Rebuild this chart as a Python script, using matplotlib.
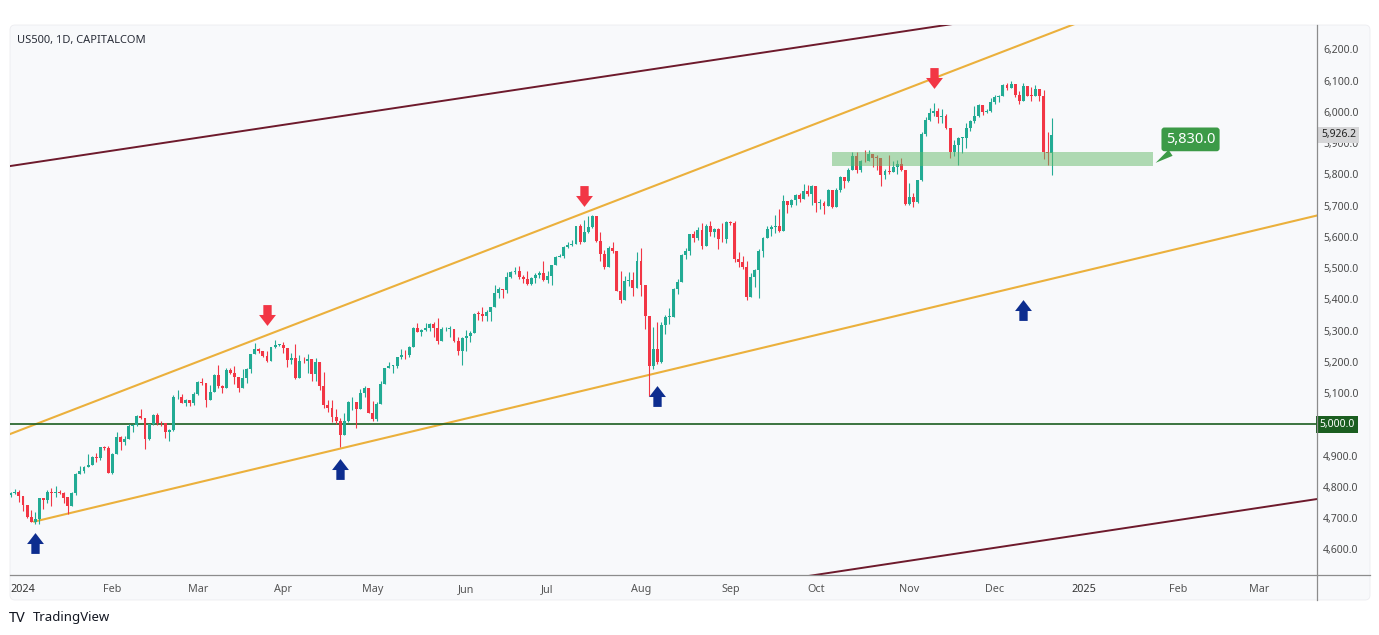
import numpy as np
import pandas as pd
import matplotlib
matplotlib.use("Agg")
import matplotlib.pyplot as plt
import matplotlib.transforms as mtransforms
from matplotlib.path import Path
from matplotlib.patches import FancyBboxPatch, Rectangle
from matplotlib.lines import Line2D

plt.rcParams["font.family"] = ["Noto Sans", "DejaVu Sans"]

# ---------------------------------------------------------------------------
# US500 daily bars (CAPITALCOM), 27 Dec 2023 -> 20 Dec 2024, weekdays (1 Jan closed)
# open of each bar = previous close (CFD trades continuously)
# ---------------------------------------------------------------------------
first_open = 4774.8

closes = [
    # Dec 2023
    4781.6, 4783.4, 4769.8,
    # Jan
    4742.8, 4704.8, 4688.7, 4697.2, 4763.5, 4756.5, 4783.5, 4780.2, 4783.8, 4781.0, 4766.0,
    4739.2, 4780.9, 4839.8, 4850.4, 4864.6, 4868.6, 4894.2, 4891.0, 4927.9, 4925.0, 4845.7,
    # Feb
    4906.2, 4958.6, 4942.8, 4954.2, 4995.1, 4997.9, 5026.6, 5021.8, 4953.2, 5000.6, 5029.7,
    5005.6, 5003.0, 4975.5, 4981.8, 5087.0, 5088.8, 5069.5, 5078.2, 5069.8, 5096.3,
    # Mar
    5137.1, 5131.0, 5078.7, 5104.8, 5157.4, 5123.7, 5117.9, 5175.3, 5165.3, 5150.5, 5117.1,
    5149.4, 5178.5, 5224.6, 5241.5, 5234.2, 5218.2, 5203.6, 5248.5, 5254.4, 5255.0,
    # Apr
    5243.8, 5205.8, 5211.5, 5147.2, 5204.3, 5202.4, 5209.9, 5160.6, 5199.1, 5123.4, 5061.8,
    5051.4, 5022.2, 5011.1, 4967.2, 5010.6, 5070.6, 5071.6, 5048.4, 5100.0, 5116.2, 5035.7,
    # May
    5018.4, 5064.2, 5127.8, 5180.7, 5187.7, 5187.7, 5214.1, 5222.7, 5221.4, 5246.7, 5308.2,
    5297.1, 5303.3, 5308.1, 5321.4, 5307.0, 5267.8, 5304.7, 5306.0, 5306.0, 5267.0, 5235.5, 5277.5,
    # Jun
    5283.4, 5291.3, 5354.0, 5353.0, 5347.0, 5360.8, 5375.3, 5421.0, 5433.7, 5431.6, 5473.2,
    5487.0, 5490.0, 5473.2, 5464.6, 5447.9, 5469.3, 5477.9, 5482.9, 5460.5,
    # Jul
    5475.1, 5509.0, 5537.0, 5540.0, 5567.2, 5572.9, 5577.0, 5633.9, 5584.5, 5615.4, 5631.2,
    5667.2, 5588.3, 5544.6, 5505.0, 5564.4, 5555.7, 5427.1, 5399.2, 5459.1, 5463.5, 5436.4, 5522.3,
    # Aug
    5446.7, 5346.6, 5186.3, 5240.0, 5199.5, 5319.3, 5344.2, 5344.4, 5434.4, 5455.2, 5543.2,
    5554.3, 5608.3, 5597.1, 5620.9, 5570.6, 5634.6, 5616.8, 5625.8, 5592.2, 5592.0, 5648.4,
    # Sep
    5645.0, 5528.9, 5520.1, 5503.4, 5408.4, 5471.1, 5495.5, 5554.1, 5595.8, 5626.0, 5633.1,
    5634.6, 5618.3, 5713.6, 5702.6, 5718.6, 5732.9, 5722.3, 5745.4, 5738.2, 5762.5,
    # Oct
    5708.8, 5709.5, 5699.9, 5751.1, 5695.9, 5751.1, 5792.0, 5780.1, 5815.0, 5859.9, 5815.3,
    5842.5, 5841.5, 5864.7, 5854.0, 5851.2, 5797.4, 5809.9, 5808.1, 5823.5, 5832.9, 5813.7, 5705.5,
    # Nov
    5728.8, 5712.7, 5782.8, 5929.0, 5973.1, 5995.5, 6001.4, 5984.0, 5985.4, 5949.2, 5870.6,
    5893.6, 5917.0, 5917.1, 5948.7, 5969.3, 5987.4, 6021.6, 5998.7, 6003.0, 6032.4,
    # Dec
    6047.2, 6049.9, 6086.5, 6075.1, 6090.3, 6052.9, 6034.9, 6084.2, 6051.3, 6051.1, 6074.1,
    6050.6, 5872.2, 5867.1, 5926.2,
]

highs = [
    4785, 4793, 4789,
    4754, 4729, 4726, 4721, 4764, 4765, 4790, 4798, 4802, 4790, 4783,
    4745, 4785, 4843, 4868, 4866, 4904, 4899, 4907, 4929, 4932, 4932,
    4907, 4975, 4963, 4963, 5000, 5001, 5030, 5048, 5000, 5002, 5033,
    5038, 5010, 4993, 4984, 5094, 5111, 5097, 5080, 5077, 5104,
    5140, 5149, 5127, 5127, 5160, 5190, 5125, 5180, 5180, 5187, 5136,
    5176, 5180, 5226, 5262, 5246, 5229, 5235, 5249, 5270, 5258,
    5264, 5208, 5228, 5256, 5222, 5216, 5225, 5178, 5211, 5193, 5168,
    5077, 5077, 5050, 5019, 5038, 5076, 5089, 5057, 5114, 5123, 5110,
    5074, 5073, 5139, 5181, 5200, 5191, 5215, 5240, 5238, 5250, 5311,
    5325, 5305, 5325, 5324, 5329, 5342, 5311, 5312, 5315, 5282, 5279, 5280,
    5302, 5299, 5355, 5362, 5376, 5366, 5376, 5447, 5441, 5432, 5488,
    5490, 5505, 5506, 5478, 5490, 5473, 5483, 5490, 5524,
    5490, 5510, 5540, 5545, 5570, 5583, 5591, 5635, 5642, 5655, 5666,
    5670, 5622, 5615, 5557, 5570, 5585, 5523, 5491, 5474, 5487, 5489, 5551,
    5566, 5440, 5325, 5312, 5329, 5328, 5350, 5372, 5436, 5464, 5546,
    5563, 5610, 5620, 5633, 5644, 5642, 5651, 5628, 5628, 5646, 5651,
    5652, 5651, 5551, 5540, 5522, 5485, 5497, 5560, 5600, 5636, 5637,
    5670, 5690, 5734, 5715, 5722, 5736, 5741, 5768, 5765, 5765,
    5757, 5720, 5714, 5753, 5748, 5758, 5796, 5790, 5822, 5871, 5871,
    5846, 5878, 5879, 5866, 5863, 5834, 5817, 5862, 5843, 5847, 5851, 5780,
    5772, 5741, 5783, 5936, 5983, 6012, 6028, 6012, 6008, 5993, 5930,
    5909, 5921, 5920, 5963, 5973, 6020, 6026, 6021, 6010, 6045,
    6053, 6053, 6089, 6093, 6099, 6089, 6066, 6092, 6079, 6079, 6085,
    6057, 6070, 5935, 5980,
]

lows = [
    4768, 4776, 4751,
    4722, 4699, 4687, 4682, 4682, 4730, 4749, 4739, 4769, 4776, 4748,
    4714, 4740, 4775, 4842, 4844, 4866, 4869, 4881, 4887, 4917, 4845,
    4842, 4906, 4919, 4935, 4955, 4977, 4995, 5016, 4920, 4951, 4999,
    4999, 4995, 4955, 4946, 4980, 5081, 5068, 5058, 5058, 5061,
    5094, 5127, 5057, 5091, 5121, 5117, 5101, 5115, 5160, 5130, 5104,
    5146, 5132, 5163, 5229, 5230, 5216, 5200, 5215, 5245, 5250,
    5229, 5184, 5194, 5146, 5149, 5198, 5165, 5138, 5138, 5109, 5052,
    5039, 5007, 5000, 4927, 4969, 5007, 5047, 4990, 5054, 5089, 5035,
    5011, 5011, 5090, 5129, 5179, 5166, 5180, 5208, 5209, 5217, 5263,
    5296, 5284, 5299, 5298, 5280, 5256, 5278, 5300, 5280, 5263, 5222, 5191,
    5234, 5265, 5297, 5335, 5331, 5331, 5331, 5395, 5403, 5403, 5420,
    5468, 5482, 5465, 5452, 5447, 5446, 5452, 5470, 5458,
    5452, 5446, 5509, 5535, 5534, 5565, 5570, 5587, 5576, 5583, 5614,
    5629, 5584, 5522, 5497, 5526, 5550, 5427, 5390, 5399, 5444, 5410, 5500,
    5410, 5306, 5090, 5178, 5192, 5196, 5290, 5321, 5353, 5418, 5460,
    5530, 5542, 5585, 5591, 5560, 5570, 5603, 5600, 5561, 5584, 5581,
    5638, 5520, 5504, 5497, 5397, 5410, 5441, 5406, 5535, 5595, 5604,
    5614, 5615, 5625, 5675, 5695, 5702, 5712, 5725, 5730, 5703,
    5681, 5690, 5674, 5703, 5691, 5704, 5745, 5756, 5775, 5820, 5804,
    5808, 5840, 5846, 5824, 5813, 5763, 5785, 5800, 5817, 5800, 5811, 5703,
    5703, 5696, 5710, 5780, 5924, 5970, 5986, 5965, 5966, 5944, 5853,
    5859, 5830, 5870, 5885, 5940, 5963, 5985, 5990, 5995, 5999,
    6024, 6033, 6050, 6071, 6075, 6048, 6024, 6038, 6050, 6036, 6050,
    6035, 5850, 5830, 5798,
]

# drawings (bar position along the weekday axis, price)
upper_red_line = [(0.0, 5827), (230.0, 6278)]
lower_red_line = [(197.8, 4518), (321.2, 4761)]
upper_channel = [(-0.2, 4969), (261.0, 6278)]
lower_channel = [(5.5, 4688), (320.8, 5667)]
round_level = 5000
zone_dates = ["2024-10-07", "2025-01-24"]
zone_prices = [5827, 5871]
zone_label = "5,830.0"
red_arrow_dates = ["2024-03-26", "2024-07-12", "2024-11-11"]
red_arrow_prices = [5350, 5732, 6107]
blue_arrow_dates = ["2024-01-05", "2024-04-19", "2024-08-07", "2024-12-11"]
blue_arrow_prices = [4620, 4857, 5092, 5366]
price_ticks = list(range(4600, 6201, 100))

# ---------------------------------------------------------------------------
bars = pd.bdate_range("2023-12-27", "2024-12-20")
bars = bars[bars != pd.Timestamp("2024-01-01")]
calendar = pd.bdate_range("2023-12-27", "2025-03-31")
calendar = calendar[calendar != pd.Timestamp("2024-01-01")]
pos = {d: i for i, d in enumerate(calendar)}

c = np.array(closes, dtype=float)
o = np.r_[first_open, c[:-1]]
h = np.maximum(np.array(highs, dtype=float), np.maximum(o, c))
l = np.minimum(np.array(lows, dtype=float), np.minimum(o, c))
x = np.array([pos[d] for d in bars])
assert len(x) == len(c) == len(h) == len(l)

GREEN = "#22ab94"
RED = "#f23645"
BG = "#f8f9fb"
AXIS_GREY = "#8c8c8c"

W, H = 1379, 635
fig = plt.figure(figsize=(W / 100, H / 100), dpi=100)
fig.patch.set_facecolor("white")

# chart panel
panel = FancyBboxPatch((10, H - 600), 1360, 575, boxstyle="round,pad=0,rounding_size=5",
                       transform=mtransforms.IdentityTransform(), fc=BG, ec="#ececf0",
                       lw=0.6, zorder=-5)
fig.add_artist(panel)

left, right, top, bottom = 10, 1317, 25, 575
ax = fig.add_axes([left / W, (H - bottom) / H, (right - left) / W, (bottom - top) / H])
ax.set_facecolor("none")
ax.set_xlim(-0.2, 321.25)
ax.set_ylim(4518, 6278)
for s in ax.spines.values():
    s.set_visible(False)


def draw_line(anchors, x_from, x_to, **kw):
    (x0, y0), (x1, y1) = anchors
    k = (y1 - y0) / (x1 - x0)
    xs = np.array([x_from, x_to])
    ax.plot(xs, y0 + k * (xs - x0), solid_capstyle="butt", **kw)


draw_line(upper_red_line, -1, 330, color="#6e1a2c", lw=1.4, zorder=2)
draw_line(lower_red_line, -1, 330, color="#6e1a2c", lw=1.4, zorder=2)
draw_line(upper_channel, -1, 330, color="#ebb03c", lw=1.5, zorder=2)
draw_line(lower_channel, lower_channel[0][0], 330, color="#ebb03c", lw=1.5, zorder=2)
ax.axhline(round_level, color="#1b5e20", lw=1.2, zorder=2)

# candles
col = np.where(c >= o, GREEN, RED)
ax.vlines(x, l, h, colors=col, lw=0.8, zorder=3)
body = np.maximum(np.abs(c - o), 2.0)
ax.bar(x, body, bottom=np.minimum(o, c), width=0.72, color=col, lw=0, zorder=3)

# support zone + callout
z0, z1 = pos[pd.Timestamp(zone_dates[0])], pos[pd.Timestamp(zone_dates[1])]
ax.add_patch(Rectangle((z0, zone_prices[0]), z1 - z0, zone_prices[1] - zone_prices[0],
                       fc="#66bb6a", ec="none", alpha=0.5, zorder=4))
ax.annotate(zone_label, xy=(z1, zone_prices[0] + 5), xytext=(9, 18),
            textcoords="offset points", ha="left", va="center", color="white",
            fontsize=10.5, fontweight="bold", zorder=6,
            bbox=dict(boxstyle="round,pad=0.3,rounding_size=0.2", fc="#3c9a47", ec="none"),
            arrowprops=dict(arrowstyle="wedge,tail_width=0.5,shrink_factor=0.5",
                            fc="#3c9a47", ec="none"))

# arrows
down_verts = [(-0.4, 1), (0.4, 1), (0.4, 0.05), (0.81, 0.05), (0, -1),
              (-0.81, 0.05), (-0.4, 0.05), (-0.4, 1)]
codes = [Path.MOVETO] + [Path.LINETO] * 6 + [Path.CLOSEPOLY]
down_arrow = Path(down_verts, codes)
up_arrow = Path([(vx, -vy) for vx, vy in down_verts], codes)
ax.plot([pos[pd.Timestamp(d)] for d in red_arrow_dates], red_arrow_prices, ls="none",
        marker=down_arrow, markersize=15, color=RED, mew=0, zorder=6)
ax.plot([pos[pd.Timestamp(d)] for d in blue_arrow_dates], blue_arrow_prices, ls="none",
        marker=up_arrow, markersize=15, color="#0d2d8f", mew=0, zorder=6)

# price scale (the 5,000.0 level is shown by its own label box)
ax.yaxis.tick_right()
ax.set_yticks(price_ticks)
ax.set_yticklabels(["" if v == round_level else f"{v:,.1f}" for v in price_ticks])
ax.tick_params(axis="y", length=0, pad=4.5, labelsize=7.5, labelcolor="#4a4a4a")
ytrans = mtransforms.blended_transform_factory(ax.transAxes, ax.transData)
ax.text(1.0 + 4 / 1307, closes[-1], f"{closes[-1]:,.1f}", transform=ytrans, ha="left",
        va="center", fontsize=7.5, color="#222222", zorder=7, clip_on=False,
        bbox=dict(boxstyle="square,pad=0.25", fc="#d6d6d8", ec="none"))
ax.text(1.0 + 2 / 1307, round_level, f"{round_level:,.1f}", transform=ytrans, ha="left",
        va="center", fontsize=7.5, color="white", zorder=7, clip_on=False,
        bbox=dict(boxstyle="square,pad=0.3", fc="#1b5e20", ec="none"))

# time scale
tick_pos, tick_lab, is_year = [], [], []
for d in calendar:
    if d >= pd.Timestamp("2024-01-01") and (len(tick_pos) == 0 or d.month != calendar[tick_pos[-1]].month):
        tick_pos.append(pos[d])
        tick_lab.append(str(d.year) if d.month == 1 else d.strftime("%b"))
        is_year.append(d.month == 1)
ax.set_xticks(tick_pos)
ax.set_xticklabels(tick_lab)
ax.tick_params(axis="x", length=0, pad=6.5, labelsize=7.8, labelcolor="#555555")
for t, yr in zip(ax.get_xticklabels(), is_year):
    if yr:
        t.set_fontweight("bold")
        t.set_color("#333333")

# scale separators
ident = mtransforms.IdentityTransform()
fig.add_artist(Line2D([10, 1370], [H - 575, H - 575], color=AXIS_GREY, lw=0.9, transform=ident))
fig.add_artist(Line2D([1317, 1317], [H - 25, H - 600], color=AXIS_GREY, lw=0.9, transform=ident))

fig.text(17 / W, 1 - 41 / H, "US500, 1D, CAPITALCOM", ha="left", va="center",
         fontsize=8, color="#2a2e39")
fig.text(9 / W, 1 - 618 / H, "TV", ha="left", va="center", fontsize=10.5,
         fontweight="heavy", color="#131722")
fig.text(33 / W, 1 - 618 / H, "TradingView", ha="left", va="center", fontsize=9.5,
         color="#131722")

fig.savefig("out.png", dpi=100)
